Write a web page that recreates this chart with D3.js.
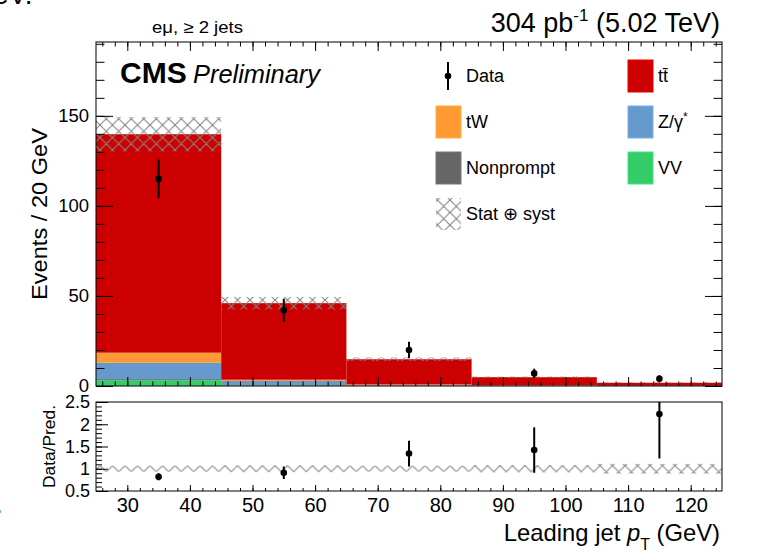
<!DOCTYPE html>
<html><head><meta charset="utf-8">
<script src="https://cdn.jsdelivr.net/npm/d3@7"></script>
<style>
body{margin:0;background:#fff;}
text{font-family:"Liberation Sans",Arial,Helvetica,sans-serif;fill:#000;}
</style>
</head><body>
<svg id="c" width="769" height="555"></svg>
<script>
// ---------------- data ----------------
const binEdges   = [25, 45, 65, 85, 105, 125];
const vv         = [3.2, 0.3, 0.1, 0.05, 0.02];
const nonprompt  = [0.6, 0.1, 0.05, 0.0, 0.0];
const zgamma     = [9.1, 2.4, 0.3, 0.1, 0.05];
const tw         = [5.6, 0.7, 0.4, 0.2, 0.1];
const ttbar      = [121.3, 42.5, 14.0, 4.55, 1.63];
const totUnc     = [9.5, 3.5, 1.0, 0.4, 0.2];
const dataCounts = [115, 42, 20, 7, 4];
const dataErr    = [10.7, 6.5, 4.5, 2.6, 2.0];
const ratioVals  = [0.82, 0.91, 1.34, 1.42, 2.23];
const ratioErr   = [0.08, 0.14, 0.29, 0.51, 1.0];
const ratioUnc   = [0.068, 0.076, 0.067, 0.08, 0.11];
const xTickVals  = [30, 40, 50, 60, 70, 80, 90, 100, 110, 120];
const yTickMain  = [0, 50, 100, 150];
const yTickRatio = [0.5, 1, 1.5, 2, 2.5];
const yTickRatioLabels = ["0.5", "1", "1.5", "2", "2.5"];

const colors = {VV:"#33cc66", Nonprompt:"#666666", Z:"#6699cc", tW:"#ff9933", tt:"#cc0000"};
const keys = ["VV", "Nonprompt", "Z", "tW", "tt"];
const series = {VV: vv, Nonprompt: nonprompt, Z: zgamma, tW: tw, tt: ttbar};

const bins = d3.range(ttbar.length).map(i => {
  const o = {i, lo: binEdges[i], hi: binEdges[i+1]};
  keys.forEach(k => o[k] = series[k][i]);
  return o;
});

// ---------------- layout ----------------
const L = 96, R = 722, mainTop = 42, mainBot = 386, rTop = 402, rBot = 491;
const svg = d3.select("#c");

const defs = svg.append("defs");
function makePattern(id, dy){
  const p = defs.append("pattern").attr("id",id).attr("patternUnits","userSpaceOnUse")
    .attr("width",12.5).attr("height",12.5).attr("patternTransform",`translate(0,${dy})`);
  p.append("path").attr("d","M0,0L12.5,12.5M0,12.5L12.5,0M-1,1L1,-1M11.5,13.5L13.5,11.5M-1,11.5L1,13.5M11.5,-1L13.5,1")
    .attr("stroke","#858585").attr("stroke-width",1.1).attr("fill","none");
}
makePattern("hatch", 0);
makePattern("hatchR", 3.1);
defs.append("clipPath").attr("id","clipMain").append("rect")
  .attr("x",L).attr("y",mainTop).attr("width",R-L).attr("height",mainBot-mainTop);
defs.append("clipPath").attr("id","clipRatio").append("rect")
  .attr("x",L).attr("y",rTop).attr("width",R-L).attr("height",rBot-rTop);

const x  = d3.scaleLinear().domain([25,125]).range([L,R]);
const y  = d3.scaleLinear().domain([0,191]).range([mainBot,mainTop]);
const yr = d3.scaleLinear().domain([0.5,2.5]).range([rBot,rTop]);

// ---------------- main panel ----------------
const gMain = svg.append("g").attr("clip-path","url(#clipMain)");
const stack = d3.stack().keys(keys)(bins);
stack.forEach(layer => {
  gMain.append("g").selectAll("rect").data(layer).join("rect")
    .attr("x", d => x(d.data.lo))
    .attr("width", d => x(d.data.hi) - x(d.data.lo))
    .attr("y", d => y(d[1]))
    .attr("height", d => Math.max(0, y(d[0]) - y(d[1])))
    .attr("fill", colors[layer.key]);
});
const totals = bins.map(b => keys.reduce((s,k)=>s+b[k],0));
gMain.append("g").selectAll("rect").data(bins).join("rect")
  .attr("x", d => x(d.lo)).attr("width", d => x(d.hi)-x(d.lo))
  .attr("y", d => y(totals[d.i] + totUnc[d.i]))
  .attr("height", d => y(totals[d.i] - totUnc[d.i]) - y(totals[d.i] + totUnc[d.i]))
  .attr("fill","url(#hatch)");

// axes main
function styleAxis(g){ g.select(".domain").remove(); g.selectAll("line").attr("stroke","#000"); }
svg.append("g").attr("transform",`translate(0,${mainBot})`)
  .call(d3.axisBottom(x).tickValues(xTickVals).tickSize(-9).tickFormat("")).call(styleAxis);
svg.append("g").attr("transform",`translate(0,${mainBot})`)
  .call(d3.axisBottom(x).ticks(50).tickSize(-4.5).tickFormat("")).call(styleAxis);
svg.append("g").attr("transform",`translate(0,${mainTop})`)
  .call(d3.axisTop(x).tickValues(xTickVals).tickSize(-9).tickFormat("")).call(styleAxis);
svg.append("g").attr("transform",`translate(0,${mainTop})`)
  .call(d3.axisTop(x).ticks(50).tickSize(-4.5).tickFormat("")).call(styleAxis);
svg.append("g").attr("transform",`translate(${L},0)`)
  .call(d3.axisLeft(y).tickValues(yTickMain).tickSize(-17).tickPadding(7))
  .call(styleAxis)
  .call(g => g.selectAll("text").attr("font-size",18.5).style("font-family","Liberation Sans"));
svg.append("g").attr("transform",`translate(${L},0)`)
  .call(d3.axisLeft(y).ticks(19).tickSize(-8.5).tickFormat("")).call(styleAxis);
svg.append("g").attr("transform",`translate(${R},0)`)
  .call(d3.axisRight(y).tickValues(yTickMain).tickSize(-17).tickFormat("")).call(styleAxis);
svg.append("g").attr("transform",`translate(${R},0)`)
  .call(d3.axisRight(y).ticks(19).tickSize(-8.5).tickFormat("")).call(styleAxis);
svg.append("rect").attr("x",L).attr("y",mainTop).attr("width",R-L).attr("height",mainBot-mainTop)
  .attr("fill","none").attr("stroke","#000").attr("stroke-width",1);

// data points main
const gData = svg.append("g").attr("clip-path","url(#clipMain)");
gData.selectAll("line").data(bins).join("line")
  .attr("x1", d => x((d.lo+d.hi)/2)).attr("x2", d => x((d.lo+d.hi)/2))
  .attr("y1", d => y(dataCounts[d.i]-dataErr[d.i])).attr("y2", d => y(dataCounts[d.i]+dataErr[d.i]))
  .attr("stroke","#000").attr("stroke-width",2);
gData.selectAll("circle").data(bins).join("circle")
  .attr("cx", d => x((d.lo+d.hi)/2)).attr("cy", d => y(dataCounts[d.i])).attr("r",3.3).attr("fill","#000");

// ---------------- ratio panel ----------------
const gR = svg.append("g").attr("clip-path","url(#clipRatio)");
gR.selectAll("rect").data(bins).join("rect")
  .attr("x", d => x(d.lo)).attr("width", d => x(d.hi)-x(d.lo))
  .attr("y", d => yr(1 + ratioUnc[d.i])).attr("height", d => yr(1 - ratioUnc[d.i]) - yr(1 + ratioUnc[d.i]))
  .attr("fill","url(#hatchR)");
gR.selectAll("line").data(bins).join("line")
  .attr("x1", d => x((d.lo+d.hi)/2)).attr("x2", d => x((d.lo+d.hi)/2))
  .attr("y1", d => yr(ratioVals[d.i]-ratioErr[d.i])).attr("y2", d => yr(ratioVals[d.i]+ratioErr[d.i]))
  .attr("stroke","#000").attr("stroke-width",2);
gR.selectAll("circle").data(bins).join("circle")
  .attr("cx", d => x((d.lo+d.hi)/2)).attr("cy", d => yr(ratioVals[d.i])).attr("r",3.3).attr("fill","#000");

svg.append("g").attr("transform",`translate(0,${rBot})`)
  .call(d3.axisBottom(x).tickValues(xTickVals).tickSize(-6).tickPadding(7))
  .call(styleAxis)
  .call(g => g.selectAll("text").attr("font-size",20).style("font-family","Liberation Sans"));
svg.append("g").attr("transform",`translate(0,${rBot})`)
  .call(d3.axisBottom(x).ticks(50).tickSize(-3).tickFormat("")).call(styleAxis);
svg.append("g").attr("transform",`translate(${L},0)`)
  .call(d3.axisLeft(yr).tickValues(yTickRatio).tickSize(-12).tickPadding(6)
        .tickFormat((d,i) => yTickRatioLabels[i]))
  .call(styleAxis)
  .call(g => g.selectAll("text").attr("font-size",18).style("font-family","Liberation Sans"));
svg.append("g").attr("transform",`translate(${L},0)`)
  .call(d3.axisLeft(yr).ticks(20).tickSize(-6).tickFormat("")).call(styleAxis);
svg.append("rect").attr("x",L).attr("y",rTop).attr("width",R-L).attr("height",rBot-rTop)
  .attr("fill","none").attr("stroke","#000").attr("stroke-width",1);

// ---------------- texts ----------------
svg.append("text").attr("x",-7).attr("y",4).attr("font-size",28).text("eV.");
svg.append("text").attr("x",-5).attr("y",513).attr("font-size",28).text(".");

svg.append("text").attr("x",152).attr("y",33).attr("font-size",16.5)
  .attr("textLength",91).attr("lengthAdjust","spacingAndGlyphs").text("eμ, ≥ 2 jets");

const lumi = svg.append("text").attr("x",720).attr("y",32).attr("font-size",27).attr("text-anchor","end");
lumi.append("tspan").text("304 pb");
lumi.append("tspan").attr("font-size",17).attr("dy",-11).text("-1");
lumi.append("tspan").attr("dy",11).text(" (5.02 TeV)");

svg.append("text").attr("x",120).attr("y",83).attr("font-size",30).attr("font-weight","bold").text("CMS");
svg.append("text").attr("x",193).attr("y",83).attr("font-size",26).attr("font-style","italic")
  .attr("textLength",127).attr("lengthAdjust","spacingAndGlyphs").text("Preliminary");

svg.append("text").attr("transform","translate(47,128) rotate(-90)").attr("text-anchor","end")
  .attr("font-size",22).attr("textLength",172).attr("lengthAdjust","spacingAndGlyphs").text("Events / 20 GeV");
svg.append("text").attr("transform","translate(55,405) rotate(-90)").attr("text-anchor","end")
  .attr("font-size",16).attr("textLength",83).attr("lengthAdjust","spacingAndGlyphs").text("Data/Pred.");

const xt = svg.append("text").attr("x",720).attr("y",541).attr("font-size",23.8).attr("text-anchor","end");
xt.append("tspan").text("Leading jet ");
xt.append("tspan").attr("font-style","italic").text("p");
xt.append("tspan").attr("font-size",16).attr("dy",9).text("T");
xt.append("tspan").attr("dy",-9).text(" (GeV)");

// ---------------- legend ----------------
const legendItems = [
  {label:"Data", type:"data", col:0, row:0},
  {label:"tt\u0304", type:"box", fill:colors.tt, col:1, row:0},
  {label:"tW", type:"box", fill:colors.tW, col:0, row:1},
  {label:"Z/γ", sup:"*", type:"box", fill:colors.Z, col:1, row:1},
  {label:"Nonprompt", type:"box", fill:colors.Nonprompt, col:0, row:2},
  {label:"VV", type:"box", fill:colors.VV, col:1, row:2},
  {label:"Stat ⊕ syst", type:"hatch", col:0, row:3}
];
const colX = [436, 628], rowY0 = 60, rowH = 46;
const lg = svg.append("g");
legendItems.forEach(it => {
  const bx = colX[it.col], by = rowY0 + it.row*rowH;
  if (it.type === "data") {
    lg.append("line").attr("x1",bx+12).attr("x2",bx+12).attr("y1",by+2).attr("y2",by+30)
      .attr("stroke","#000").attr("stroke-width",2);
    lg.append("circle").attr("cx",bx+12).attr("cy",by+16).attr("r",3.3).attr("fill","#000");
  } else if (it.type === "box") {
    lg.append("rect").attr("x",bx).attr("y",by).attr("width",25).attr("height",32)
      .attr("fill",it.fill).attr("stroke",d3.color(it.fill).brighter(0.4)).attr("stroke-width",1);
  } else {
    lg.append("rect").attr("x",bx).attr("y",by).attr("width",25).attr("height",32).attr("fill","url(#hatch)");
  }
  const t = lg.append("text").attr("x",bx+30).attr("y",by+22).attr("font-size",18).text(it.label);
  if (it.sup) t.append("tspan").attr("font-size",12).attr("dy",-7).text(it.sup);
});
</script>
</body></html>
